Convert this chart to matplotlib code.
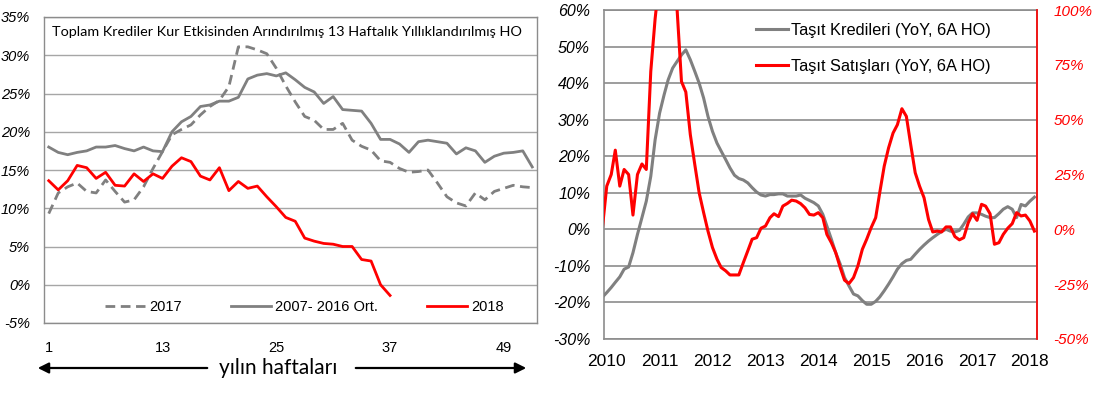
import numpy as np
import pandas as pd
import matplotlib
matplotlib.use("Agg")
import matplotlib.pyplot as plt
from matplotlib.ticker import FuncFormatter
from matplotlib.patches import FancyArrowPatch

plt.rcParams['axes.unicode_minus'] = False

# ---------------- data: left chart (weekly) ----------------
weeks_ticks = [1, 13, 25, 37, 49]
series_2017 = [9.3, 12.0, 12.8, 13.3, 12.2, 12.0, 13.7, 12.2, 10.8, 11.1, 12.8, 15.2, 17.4,
               19.6, 20.3, 20.9, 22.2, 23.3, 24.1, 25.9, 31.1, 31.1, 30.7, 30.2, 28.3, 26.0,
               23.9, 22.0, 21.5, 20.3, 20.3, 21.1, 18.9, 18.1, 17.6, 16.2, 16.0, 15.2, 14.7,
               14.8, 15.0, 13.3, 11.5, 10.7, 10.3, 12.0, 11.1, 12.2, 12.6, 13.0, 12.8, 12.7]
series_avg = [18.0, 17.3, 17.0, 17.3, 17.5, 18.0, 18.0, 18.2, 17.8, 17.5, 18.0, 17.5, 17.4,
              20.0, 21.3, 22.0, 23.3, 23.5, 24.0, 24.0, 24.5, 26.9, 27.4, 27.6, 27.3, 27.7,
              26.8, 25.8, 25.2, 23.7, 24.6, 22.9, 22.8, 22.7, 21.1, 19.0, 19.0, 18.4, 17.3,
              18.7, 18.9, 18.7, 18.5, 17.1, 17.9, 17.5, 16.0, 16.8, 17.2, 17.3, 17.5, 15.4]
series_2018 = [13.6, 12.4, 13.6, 15.6, 15.3, 13.9, 14.7, 13.0, 12.9, 14.5,
               13.5, 14.5, 13.9, 15.5, 16.6, 16.1, 14.2, 13.7, 15.3, 12.3,
               13.5, 12.6, 12.9, 11.5, 10.2, 8.8, 8.3, 6.1, 5.7, 5.4,
               5.3, 5.0, 5.0, 3.3, 3.1, 0.0, -1.4]
left_title = "Toplam Krediler Kur Etkisinden Arındırılmış 13 Haftalık Yıllıklandırılmış HO"
left_labels = ["2017", "2007- 2016 Ort.", "2018"]
left_xlabel = "yılın haftaları"

# ---------------- data: right chart (monthly) ----------------
month_start = "2009-12-01"
n_months = 99
vehicle_loans = [-18.6, -17.3, -15.9, -14.5, -13.0, -10.9, -10.3, -6.4, -1.4, 3.2,
                 7.7, 14.5, 24.5, 31.8, 36.8, 40.9, 44.1, 45.9, 47.7, 49.1,
                 46.4, 43.2, 40.0, 35.9, 30.9, 26.8, 23.6, 21.4, 19.1, 16.8,
                 14.8, 13.9, 13.5, 12.7, 11.4, 10.2, 9.4, 9.1, 9.5, 9.5,
                 9.7, 9.7, 9.1, 9.1, 9.1, 9.4, 8.5, 7.9, 7.3, 6.4,
                 4.1, 0.9, -2.7, -6.4, -9.5, -13.2, -15.5, -17.7, -18.2, -19.5,
                 -20.5, -20.5, -19.7, -18.5, -16.8, -15.0, -13.0, -10.9, -9.4, -8.5,
                 -8.2, -6.8, -5.5, -4.3, -3.2, -2.3, -1.4, -0.6, 0.0, -0.5,
                 -0.7, -0.3, 1.4, 3.4, 4.5, 4.5, 4.1, 3.6, 3.2, 3.2,
                 4.3, 5.5, 6.2, 5.5, 3.2, 6.8, 6.4, 7.7, 8.8]
vehicle_sales = [0.0, 19.7, 25.0, 36.1, 19.7, 27.3, 25.0, 6.5, 25.0, 29.8,
                 27.3, 72.0, 96.0, 115.0, 130.0, 130.0, 120.0, 101.0, 67.4, 62.6,
                 43.2, 29.5, 16.7, 7.6, -0.8, -8.3, -13.6, -17.4, -18.9, -20.8,
                 -20.8, -20.8, -15.2, -9.8, -4.5, -3.8, 0.5, 1.5, 5.3, 7.1,
                 5.8, 10.6, 11.8, 13.3, 12.9, 11.7, 9.8, 6.8, 6.5, 7.6,
                 5.3, -2.3, -6.1, -10.6, -17.4, -23.2, -24.7, -22.0, -16.7, -9.1,
                 -4.5, 0.8, 5.3, 16.7, 28.8, 37.1, 43.9, 47.7, 55.0, 51.5,
                 38.6, 25.8, 19.7, 14.4, 4.5, -1.2, -0.8, -1.2, 1.1, 1.1,
                 -3.3, -4.8, -3.8, 3.0, 7.1, 4.1, 11.4, 10.6, 7.1, -6.8,
                 -6.1, -2.3, 0.5, 2.6, 7.6, 6.1, 6.5, 3.8, -0.8]
right_labels = ["Taşıt Kredileri (YoY, 6A HO)", "Taşıt Satışları (YoY, 6A HO)"]
year_ticks = list(range(2010, 2019))

# ---------------- fonts ----------------
ARIAL = ["Liberation Sans", "DejaVu Sans"]
CALIBRI = ["Lato", "DejaVu Sans"]

RED = "#FF0000"
GRAY = "#808080"

fig = plt.figure(figsize=(10.93, 3.96), dpi=100)
W, H = 1093, 396

def axrect(x0, y0, x1, y1):
    return [x0 / W, 1 - y1 / H, (x1 - x0) / W, (y1 - y0) / H]

pct = FuncFormatter(lambda v, p: f"{v:.0f}%")

# ================= LEFT CHART =================
ax = fig.add_axes(axrect(44, 17, 537, 323))
wk = np.arange(1, 53)
ax.plot(wk, series_2017, color=GRAY, lw=2.0, dashes=(3.5, 2.0), label=left_labels[0], zorder=3)
ax.plot(wk, series_avg, color=GRAY, lw=2.0, label=left_labels[1], zorder=3)
ax.plot(np.arange(1, len(series_2018) + 1), series_2018, color=RED, lw=2.0,
        label=left_labels[2], zorder=4)
ax.set_xlim(0.5, 52.5)
ax.set_ylim(-5, 35)
ax.set_yticks(np.arange(-5, 36, 5))
ax.yaxis.set_major_formatter(pct)
ax.set_xticks(weeks_ticks)
ax.grid(axis="y", color="#A6A6A6", lw=1.0)
ax.set_axisbelow(True)
for s in ax.spines.values():
    s.set_color("#8C8C8C")
    s.set_linewidth(1.0)
ax.tick_params(axis="both", length=0)
ax.tick_params(axis="y", pad=10)
ax.tick_params(axis="x", pad=13)
for lab in ax.get_yticklabels():
    lab.set_fontfamily(ARIAL); lab.set_fontstyle("italic"); lab.set_fontsize(10.5)
for lab in ax.get_xticklabels():
    lab.set_fontfamily(ARIAL); lab.set_fontsize(10.5)
ax.text(0.492, 0.951, left_title, transform=ax.transAxes, ha="center", va="center",
        fontsize=10.4, family=CALIBRI)
ax.legend(loc="center left", bbox_to_anchor=(0.124, 0.052), ncol=3, frameon=False,
          handlelength=2.75, handletextpad=0.25, columnspacing=3.4,
          prop={"family": ARIAL, "size": 10.5}, borderpad=0, borderaxespad=0)

# x label with arrows
fig.text(278 / W, 1 - 368 / H, left_xlabel, ha="center", va="center", fontsize=15,
         family=CALIBRI)
fig.add_artist(FancyArrowPatch(
    (210 / W, 1 - 368 / H), (35 / W, 1 - 368 / H), transform=fig.transFigure,
    arrowstyle="-|>", mutation_scale=16, lw=1.6, color="black"))
fig.add_artist(FancyArrowPatch(
    (353 / W, 1 - 368 / H), (529 / W, 1 - 368 / H), transform=fig.transFigure,
    arrowstyle="-|>", mutation_scale=16, lw=1.6, color="black"))

# ================= RIGHT CHART =================
dates = pd.date_range(month_start, periods=n_months, freq="MS")
axr = fig.add_axes(axrect(604, 10, 1037, 339))
l1, = axr.plot(dates, vehicle_loans, color=GRAY, lw=2.2, zorder=3)
axr.set_ylim(-30, 60)
axr.set_yticks(np.arange(-30, 61, 10))
axr.yaxis.set_major_formatter(pct)
axr.set_xlim(pd.Timestamp("2009-12-13"), pd.Timestamp("2018-02-19"))
axr.set_xticks([pd.Timestamp(f"{y}-01-01") for y in year_ticks])
axr.set_xticklabels([str(y) for y in year_ticks])
axr.grid(axis="y", color="#8C8C8C", lw=1.2)
axr.set_axisbelow(True)
for s in axr.spines.values():
    s.set_color("#8C8C8C")
    s.set_linewidth(1.2)
axr.tick_params(axis="both", length=0)
axr.tick_params(axis="y", pad=10)
axr.tick_params(axis="x", pad=11)
for lab in axr.get_yticklabels():
    lab.set_fontfamily(ARIAL); lab.set_fontstyle("italic"); lab.set_fontsize(11.5)
for lab in axr.get_xticklabels():
    lab.set_fontfamily(ARIAL); lab.set_fontsize(12.5)

ax2 = axr.twinx()
l2, = ax2.plot(dates, vehicle_sales, color=RED, lw=2.2, zorder=4)
ax2.set_ylim(-50, 100)
ax2.set_yticks(np.arange(-50, 101, 25))
ax2.yaxis.set_major_formatter(pct)
ax2.tick_params(axis="both", length=0)
ax2.tick_params(axis="y", pad=12, colors=RED)
for s in ax2.spines.values():
    s.set_visible(False)
ax2.spines["right"].set_visible(True)
ax2.spines["right"].set_color(RED)
ax2.spines["right"].set_linewidth(1.2)
for lab in ax2.get_yticklabels():
    lab.set_fontfamily(ARIAL); lab.set_fontstyle("italic"); lab.set_fontsize(11)
    lab.set_color(RED)

ax2.legend([l1, l2], right_labels, loc="upper left", bbox_to_anchor=(0.352, 0.962),
           frameon=False, handlelength=1.95, handletextpad=0.15, labelspacing=1.3,
           prop={"family": ARIAL, "size": 11.8}, borderpad=0, borderaxespad=0)

fig.savefig("out.png", dpi=100)
